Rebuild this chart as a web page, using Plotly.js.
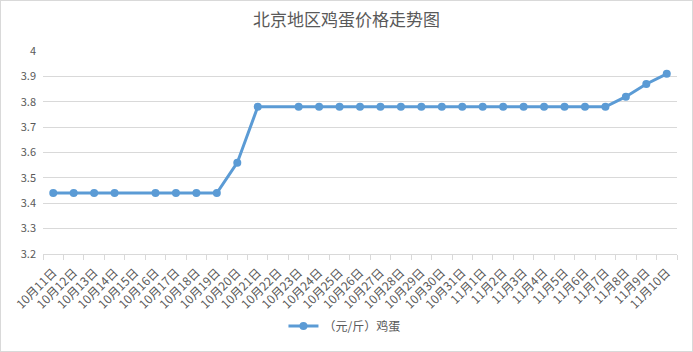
<!DOCTYPE html>
<html><head><meta charset="utf-8">
<script src="https://cdn.plot.ly/plotly-3.0.1.min.js"></script>
<style>body{margin:0;padding:0;background:#fff}#wrap{position:relative;width:693px;height:352px}#chart{width:693px;height:352px}#border{position:absolute;left:0;top:0;width:691px;height:350px;border:1px solid #d9d9d9;pointer-events:none}</style>
</head><body><div id="wrap"><div id="chart"></div><div id="border"></div></div>
<script>
const dates = ["10月11日","10月12日","10月13日","10月14日","10月15日","10月16日","10月17日","10月18日","10月19日","10月20日","10月21日","10月22日","10月23日","10月24日","10月25日","10月26日","10月27日","10月28日","10月29日","10月30日","10月31日","11月1日","11月2日","11月3日","11月4日","11月5日","11月6日","11月7日","11月8日","11月9日","11月10日"];
const eggPrice = [3.44,3.44,3.44,3.44,null,3.44,3.44,3.44,3.44,3.56,3.78,null,3.78,3.78,3.78,3.78,3.78,3.78,3.78,3.78,3.78,3.78,3.78,3.78,3.78,3.78,3.78,3.78,3.82,3.87,3.91];
const seriesName = "（元/斤）鸡蛋";
const chartTitle = "北京地区鸡蛋价格走势图";

const font = "'Noto Sans CJK SC', 'Noto Sans', sans-serif";
Plotly.newPlot('chart', [{
  x: dates, y: eggPrice, name: seriesName, type: 'scatter', mode: 'lines+markers',
  connectgaps: true,
  line: {color: '#5b9bd5', width: 3},
  marker: {color: '#5b9bd5', size: 8}
}], {
  width: 693, height: 352,
  margin: {l: 43, r: 16, t: 51, b: 95},
  paper_bgcolor: '#fff', plot_bgcolor: '#fff',
  font: {family: font, color: '#595959', size: 12},
  title: {text: chartTitle, x: 0.5, xanchor: 'center', y: 0.943, yanchor: 'middle', font: {family: font, size: 17, color: '#595959'}},
  showlegend: true,
  legend: {orientation: 'h', x: 0.4755, xanchor: 'center', y: -0.355, yanchor: 'middle', font: {size: 12, color: '#595959'}},
  xaxis: {type: 'category', range: [-0.5, 30.5], tickangle: -45, tickson: 'boundaries', ticks: 'outside', ticklen: 5, tickcolor: '#d9d9d9',
    showline: true, linecolor: '#d9d9d9', linewidth: 1, showgrid: false, tickfont: {size: 12, color: '#595959'}, ticklabelstandoff: 6, fixedrange: true},
  yaxis: {range: [3.2, 4.0], dtick: 0.1, tick0: 3.2, tickformat: '.1~f', showgrid: true, gridcolor: '#d9d9d9', zeroline: false, showline: false,
    ticks: '', tickfont: {size: 11, color: '#595959'}, ticklabelstandoff: 6}
}, {displayModeBar: false, staticPlot: true});
</script></body></html>
